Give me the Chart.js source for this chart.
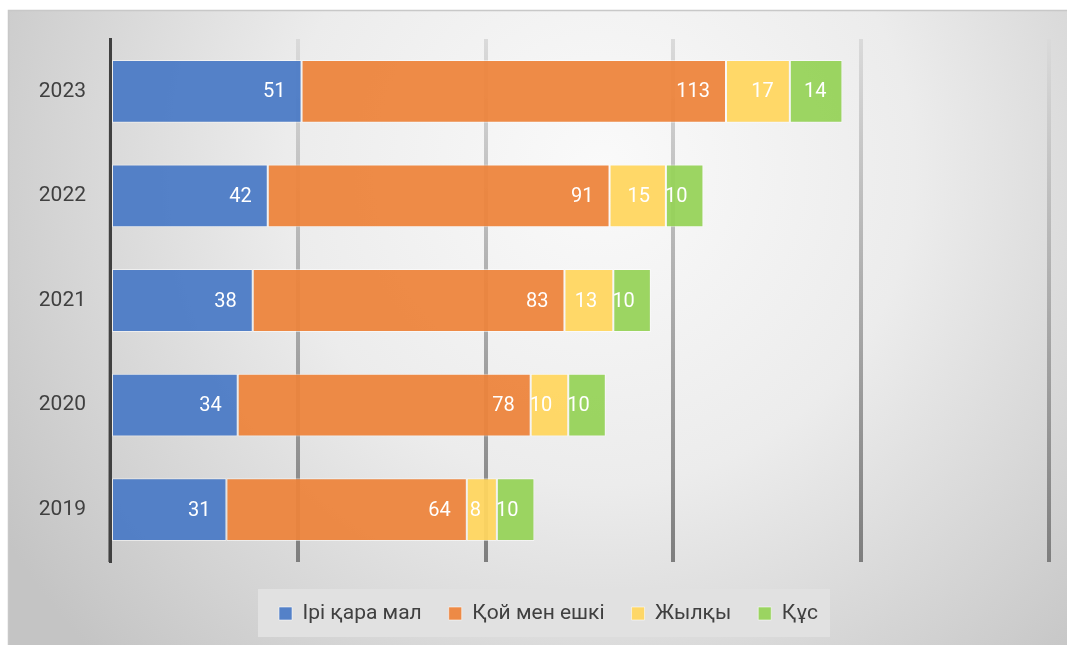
<!DOCTYPE html>
<html>
<head>
<meta charset="utf-8">
<script src="https://cdn.jsdelivr.net/npm/chart.js@4"></script>
<style>
  html, body { margin: 0; padding: 0; background: #fff; }
  #wrap { width: 1067px; height: 645px; }
</style>
</head>
<body>
<div id="wrap"><canvas id="myChart" width="1067" height="645"></canvas></div>
<script>
const years = ["2023", "2022", "2021", "2020", "2019"];
const iriQaraMal = [51, 42, 38, 34, 31];
const qoiMenEshki = [113, 91, 83, 78, 64];
const zhylqy = [17, 15, 13, 10, 8];
const qus = [14, 10, 10, 10, 10];
const xTicks = [0, 50, 100, 150, 200, 250];

// fondo del panel: degradado radial
const fondo = {
  id: "fondo",
  afterLayout(chart) {
    // la leyenda del original esta un poco a la derecha del centro
    chart.legend.left += 20;
    chart.legend.right += 20;
  },
  beforeDraw(chart) {
    const ctx = chart.ctx;
    ctx.save();
    const g = ctx.createRadialGradient(600, 170, 0, 600, 170, 700);
    g.addColorStop(0, "#fafafa");
    g.addColorStop(0.45, "#ececec");
    g.addColorStop(1, "#c4c4c4");
    ctx.fillStyle = g;
    ctx.fillRect(8, 10, 1059, 635);
    ctx.strokeStyle = "#c8c8c8";
    ctx.lineWidth = 1.5;
    ctx.beginPath();
    ctx.moveTo(8.5, 645);
    ctx.lineTo(8.5, 10.5);
    ctx.lineTo(1067, 10.5);
    ctx.stroke();
    // fondo de la leyenda
    ctx.fillStyle = "#e1e1e1";
    ctx.fillRect(258, 589, 572, 48);
    ctx.restore();
  }
};

// etiquetas dentro de las barras
const etiquetas = {
  id: "etiquetas",
  afterDatasetsDraw(chart) {
    const ctx = chart.ctx;
    ctx.save();
    ctx.font = "20px Roboto";
    ctx.fillStyle = "#ffffff";
    ctx.textAlign = "right";
    ctx.textBaseline = "middle";
    chart.data.datasets.forEach((ds, i) => {
      chart.getDatasetMeta(i).data.forEach((bar, j) => {
        ctx.fillText(String(ds.data[j]), bar.x - 16, bar.y + 1);
      });
    });
    ctx.restore();
  }
};

const gridColor = (c) => {
  const chart = c.chart;
  const a = chart.chartArea;
  if (!a) return "#c8c8c8";
  const g = chart.ctx.createLinearGradient(0, a.top, 0, a.bottom);
  g.addColorStop(0, "#dadada");
  g.addColorStop(1, "#7e7e7e");
  return g;
};

const datasets = [
  { label: "Ірі қара мал", data: iriQaraMal, backgroundColor: "rgba(74,122,198,0.94)" },
  { label: "Қой мен ешкі", data: qoiMenEshki, backgroundColor: "rgba(237,132,60,0.94)" },
  { label: "Жылқы", data: zhylqy, backgroundColor: "rgba(255,214,95,0.94)" },
  { label: "Құс", data: qus, backgroundColor: "rgba(150,210,88,0.94)" }
].map((d) => ({ ...d, borderColor: "rgba(255,255,255,0.55)", borderWidth: 1, borderSkipped: false }));

const config = {
  type: "bar",
  data: { labels: years, datasets },
  options: {
    indexAxis: "y",
    responsive: false,
    animation: false,
    layout: { padding: { left: 8, top: 39, right: 18, bottom: 11 } },
    barPercentage: 0.6,
    categoryPercentage: 1,
    scales: {
      x: {
        stacked: true,
        min: 0,
        max: 250,
        afterBuildTicks: (s) => { s.ticks = xTicks.map((v) => ({ value: v })); },
        afterFit: (s) => { s.height = 14; },
        ticks: { display: false },
        border: { display: false },
        grid: { color: gridColor, lineWidth: 4, drawTicks: false }
      },
      y: {
        stacked: true,
        afterFit: (s) => { s.width = 102; },
        ticks: { color: "#404040", font: { family: "Roboto", size: 21 }, padding: 24 },
        border: { display: true, color: "#404040", width: 3 },
        grid: { display: false, drawTicks: false }
      }
    },
    plugins: {
      tooltip: { enabled: false },
      legend: {
        position: "bottom",
        labels: {
          color: "#404040",
          font: { family: "Roboto", size: 21 },
          boxWidth: 13,
          boxHeight: 13,
          padding: 27
        }
      }
    }
  },
  plugins: [fondo, etiquetas]
};

const chart = new Chart(document.querySelector("#myChart"), config);
</script>
</body>
</html>
